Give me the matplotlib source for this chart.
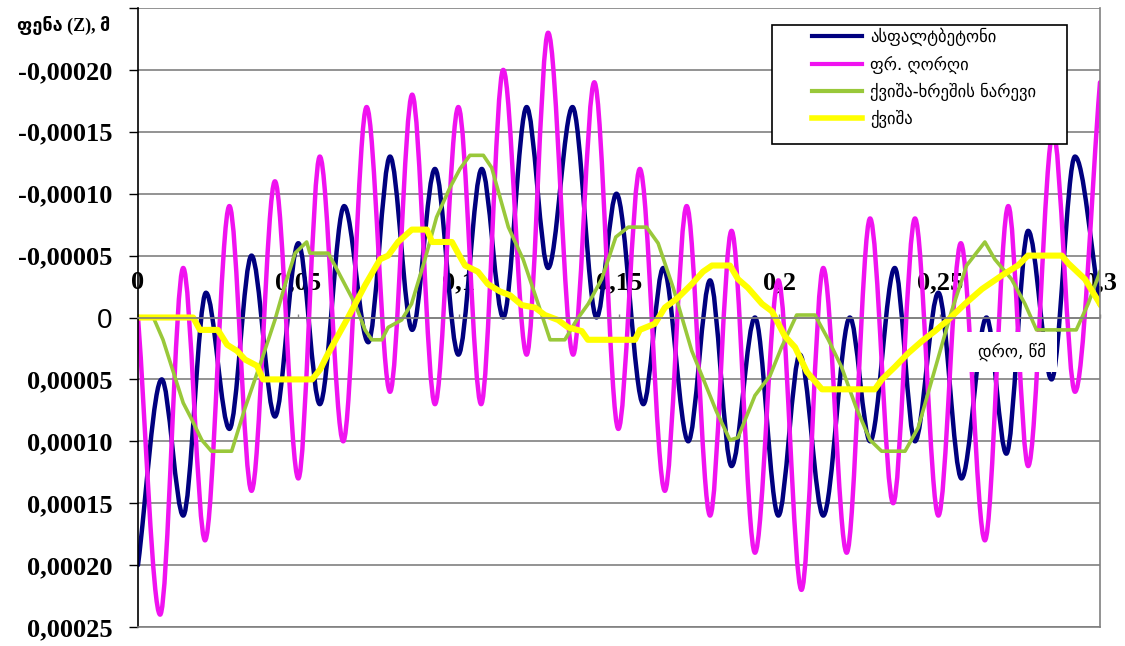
import matplotlib
matplotlib.use("Agg")
import matplotlib.pyplot as plt
import numpy as np
from matplotlib.path import Path
from matplotlib.patches import PathPatch, Rectangle
from matplotlib.lines import Line2D

# Data: time in s, displacement in units of 1e-5 m
SCALE = 1e-5

# asphalt concrete: turning points of the smoothed curve
asph_t = [0, 0.0074, 0.0141, 0.0212, 0.0285, 0.0354, 0.0427, 0.0500, 0.0567, 0.0643,
          0.0718, 0.0786, 0.0855, 0.0926, 0.0999, 0.1072, 0.1139, 0.1212, 0.1279, 0.1355,
          0.1430, 0.1492, 0.1576, 0.1638, 0.1716, 0.1784, 0.1851, 0.1924, 0.1997, 0.2064,
          0.2137, 0.2220, 0.2283, 0.2360, 0.2423, 0.2496, 0.2568, 0.2646, 0.2708, 0.2776,
          0.2849, 0.2922, 0.3000]
asph_v = [20, 5, 16, -2, 9, -5, 8, -6, 7, -9,
          2, -13, 1, -12, 3, -12, 0, -17, -4, -17,
          0, -10, 7, -4, 10, -3, 12, 0, 16, 3,
          16, 0, 10, -4, 10, -2, 13, 0, 11, -7,
          5, -13, -1]

# crushed stone: turning points
crush_t = [0, 0.0069, 0.0141, 0.0209, 0.0285, 0.0354, 0.0427, 0.0500, 0.0567, 0.0640,
           0.0713, 0.0786, 0.0855, 0.0926, 0.0999, 0.1070, 0.1139, 0.1212, 0.1279, 0.1357,
           0.1423, 0.1498, 0.1565, 0.1643, 0.1711, 0.1784, 0.1851, 0.1924, 0.1997, 0.2069,
           0.2137, 0.2210, 0.2283, 0.2355, 0.2423, 0.2496, 0.2566, 0.2641, 0.2714, 0.2776,
           0.2854, 0.2922, 0.3000]
crush_v = [0, 24, -4, 18, -9, 14, -11, 13, -13, 10,
           -17, 6, -18, 7, -17, 7, -20, 3, -23, 3,
           -19, 9, -12, 14, -9, 16, -7, 19, -3, 22,
           -4, 19, -8, 15, -8, 16, -6, 18, -9, 12,
           -15, 6, -19]

# sand-gravel mix
mix_t = [0, 0.0048, 0.0078, 0.0141, 0.0165, 0.0199, 0.0229, 0.0292, 0.0334, 0.0386,
         0.0427, 0.0458, 0.0490, 0.0526, 0.0536, 0.0593, 0.0614, 0.0677, 0.0708, 0.0729,
         0.0760, 0.0780, 0.0822, 0.0853, 0.0895, 0.0931, 0.0973, 0.1004, 0.1035, 0.1077,
         0.1103, 0.1155, 0.1201, 0.1248, 0.1285, 0.1331, 0.1368, 0.1404, 0.1446, 0.1490,
         0.1529, 0.1586, 0.1622, 0.1669, 0.1727, 0.1768, 0.1804, 0.1846, 0.1871, 0.1924,
         0.1971, 0.2007, 0.2054, 0.2111, 0.2153, 0.2194, 0.2240, 0.2283, 0.2319, 0.2392,
         0.2433, 0.2485, 0.2537, 0.2584, 0.2641, 0.2672, 0.2724, 0.2766, 0.2802, 0.2926,
         0.2963, 0.3000]
mix_v = [0, 0, 1.8, 6.9, 8.1, 9.9, 10.8, 10.8, 7.3, 3.4,
         0.2, -2.6, -5.2, -6.1, -5.2, -5.2, -4.2, -1.1, 1.0, 1.8,
         1.8, 0.8, 0.2, -1.1, -4.7, -8.1, -10.5, -12.0, -13.1, -13.1,
         -12.1, -7.3, -4.7, -1.1, 1.8, 1.8, 0.2, -1.1, -3.1, -6.5,
         -7.3, -7.3, -6.0, -2.4, 2.7, 5.3, 7.6, 9.9, 9.7, 6.3,
         4.7, 2.4, -0.2, -0.2, 1.8, 4.0, 7.3, 9.9, 10.8, 10.8,
         8.9, 4.2, -0.5, -4.2, -6.1, -4.7, -3.1, -1.1, 1.0, 1.0,
         -1.1, -3.7]

# sand
sand_t = [0, 0.0172, 0.0193, 0.0249, 0.0278, 0.0309, 0.0334, 0.0371, 0.0390, 0.0543,
          0.0568, 0.0589, 0.0608, 0.0655, 0.0708, 0.0755, 0.0780, 0.0811, 0.0854, 0.0901,
          0.0917, 0.0979, 0.0998, 0.1020, 0.1060, 0.1091, 0.1129, 0.1160, 0.1197, 0.1238,
          0.1269, 0.1310, 0.1341, 0.1384, 0.1403, 0.1550, 0.1565, 0.1612, 0.1643, 0.1684,
          0.1727, 0.1762, 0.1790, 0.1846, 0.1871, 0.1902, 0.1946, 0.1977, 0.2017, 0.2049,
          0.2086, 0.2133, 0.2298, 0.2320, 0.2360, 0.2401, 0.2445, 0.2485, 0.2526, 0.2579,
          0.2632, 0.2694, 0.2744, 0.2775, 0.2881, 0.2900, 0.2953, 0.3000]
sand_v = [0, 0, 1.0, 1.0, 2.2, 2.7, 3.4, 3.9, 5.0, 5.0,
          4.2, 3.1, 2.2, 0, -2.6, -4.7, -5.0, -6.1, -7.1, -7.1,
          -6.1, -6.1, -5.2, -4.2, -3.7, -2.7, -2.1, -1.8, -1.0, -0.8,
          -0.2, 0.2, 0.8, 1.1, 1.8, 1.8, 1.0, 0.5, -0.8, -1.6,
          -2.7, -3.7, -4.2, -4.2, -3.1, -2.4, -1.1, -0.5, 1.5, 2.4,
          4.4, 5.8, 5.8, 5.0, 4.0, 2.9, 1.9, 1.1, 0.2, -1.1,
          -2.3, -3.4, -4.2, -5.0, -5.0, -4.4, -3.1, -1.1]

series_names = ["ასფალტბეტონი", "ფრ. ღორღი", "ქვიშა-ხრეშის ნარევი", "ქვიშა"]
COLORS = ["#00007F", "#F012F0", "#99C83A", "#FFFF00"]
WIDTHS = [3.2, 3.2, 2.6, 4.4]

x_ticks = [0, 0.05, 0.1, 0.15, 0.2, 0.25, 0.3]
x_ticklabels = ["0", "0,05", "0,1", "0,15", "0,2", "0,25", "0,3"]
y_ticks = [-25, -20, -15, -10, -5, 0, 5, 10, 15, 20, 25]


def smooth_path(t, v):
    # Excel-like smoothed line: cubic pieces with flat tangents at turning points
    t = np.asarray(t, float)
    v = np.asarray(v, float) * SCALE
    verts = [(t[0], v[0])]
    codes = [Path.MOVETO]
    n = len(t)
    for i in range(n - 1):
        d = (t[i + 1] - t[i]) / 3
        dv = (v[i + 1] - v[i]) / 3
        c1 = (t[i] + d, v[i] + (dv if i == 0 else 0))
        c2 = (t[i + 1] - d, v[i + 1] - (dv if i == n - 2 else 0))
        verts += [c1, c2, (t[i + 1], v[i + 1])]
        codes += [Path.CURVE4] * 3
    return Path(verts, codes)


fig = plt.figure(figsize=(11.25, 6.46), dpi=100)
ax = fig.add_axes([138 / 1125, 1 - 627 / 646, (1100 - 138) / 1125, (627 - 8) / 646])

ax.add_patch(PathPatch(smooth_path(asph_t, asph_v), fill=False, edgecolor=COLORS[0],
                       lw=WIDTHS[0], capstyle="round", joinstyle="round", zorder=2))
ax.add_patch(PathPatch(smooth_path(crush_t, crush_v), fill=False, edgecolor=COLORS[1],
                       lw=WIDTHS[1], capstyle="round", joinstyle="round", zorder=2.1))
ax.plot(mix_t, np.array(mix_v) * SCALE, color=COLORS[2], lw=WIDTHS[2],
        solid_joinstyle="round", zorder=2.2)
ax.plot(sand_t, np.array(sand_v) * SCALE, color=COLORS[3], lw=WIDTHS[3],
        solid_joinstyle="round", zorder=2.3)

ax.set_xlim(0, 0.3)
ax.set_ylim(25 * SCALE, -25 * SCALE)
ax.set_axisbelow(True)

# y axis
yt = [v * SCALE for v in y_ticks]
ylabels = []
for v in y_ticks:
    if v == -25:
        ylabels.append("")
    elif v == 0:
        ylabels.append("0")
    else:
        ylabels.append(f"{v * SCALE:.5f}".replace(".", ","))
ax.set_yticks(yt)
ylbl = ax.set_yticklabels(ylabels, fontfamily="Liberation Serif", fontweight="bold", fontsize=19)
for lbl in ylbl:
    if lbl.get_text() == "0":
        lbl.set_fontfamily("Liberation Sans")
        lbl.set_fontweight("normal")
        lbl.set_fontsize(20)
ax.tick_params(axis="y", direction="out", length=6.5, width=1, color="black", pad=12)
ax.grid(True, axis="y", color="#808080", lw=1.2)

# x axis on the zero line, labels above it
ax.spines["top"].set_position(("data", 0))
ax.spines["top"].set_color("#808080")
ax.spines["top"].set_linewidth(1.2)
ax.xaxis.set_ticks_position("top")
ax.set_xticks(x_ticks)
ax.set_xticklabels(x_ticklabels, fontfamily="Liberation Serif", fontweight="bold", fontsize=19)
ax.tick_params(axis="x", direction="out", length=3, width=1, color="#808080", pad=14)
ax.spines["left"].set_color("black")
ax.spines["left"].set_linewidth(1.2)
ax.spines["right"].set_color("#808080")
ax.spines["bottom"].set_color("#808080")
ax.spines["right"].set_linewidth(1.2)
ax.spines["bottom"].set_linewidth(1.2)

fig.text(64 / 1125, 1 - 25 / 646, "ფენა (Z), მ", ha="center", va="center",
         family=["Liberation Serif", "DejaVu Sans"], fontweight="bold", fontsize=13)
fig.text(1012 / 1125, 1 - 352 / 646, "დრო, წმ", ha="center", va="center",
         family=["DejaVu Sans"], fontsize=12, zorder=5,
         bbox=dict(facecolor="white", edgecolor="none", pad=8))

# legend box
fig.patches.append(Rectangle((772 / 1125, 1 - 144 / 646), (1067 - 772) / 1125, (144 - 25) / 646,
                             transform=fig.transFigure, facecolor="white", edgecolor="black",
                             lw=1.2, zorder=6))
handles = [Line2D([], [], color=c, lw=w) for c, w in zip(COLORS, [3.0, 3.0, 3.0, 4.0])]
leg = fig.legend(handles, series_names, loc="upper left", bbox_to_anchor=(812 / 1125, 1 - 28 / 646),
                 frameon=False, borderpad=0, borderaxespad=0, handlelength=3.0,
                 handletextpad=0.5, labelspacing=0.55, prop={"family": "DejaVu Sans", "size": 12})
leg.set_zorder(7)

fig.savefig("out.png", dpi=100)
plt.close(fig)
